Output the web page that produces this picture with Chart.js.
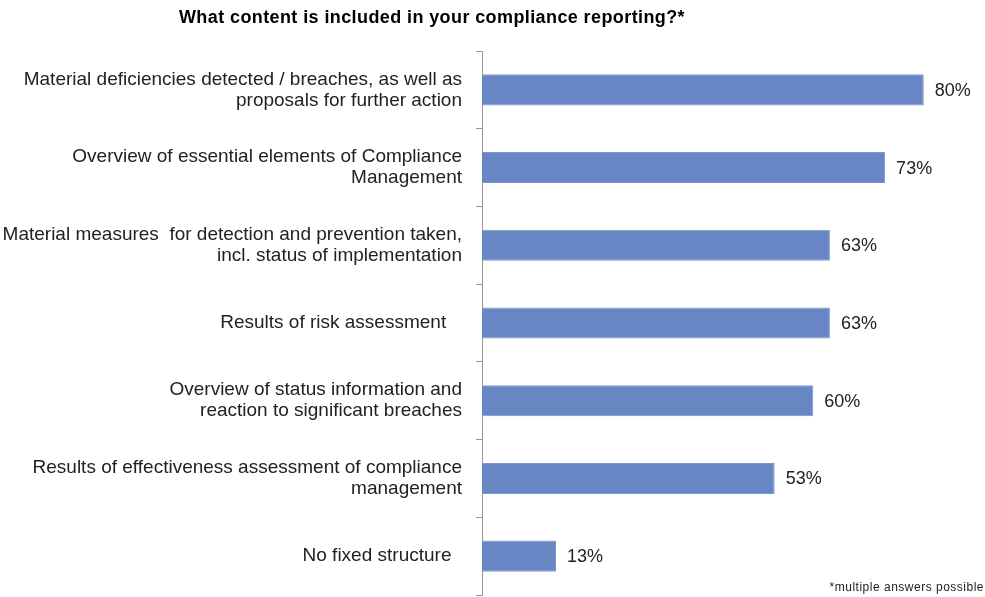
<!DOCTYPE html>
<html lang="en">
<head>
  <meta charset="UTF-8" />
  <title>Compliance reporting content</title>
  <script src="https://cdn.jsdelivr.net/npm/chart.js"></script>
  <style>
    html, body { margin: 0; padding: 0; background: #fff; }
    #wrap { width: 985px; height: 597px; position: relative; }
  </style>
</head>
<body>
  <div id="wrap">
    <canvas id="myChart" width="985" height="597"></canvas>
  </div>

  <script>
    // chart data
    const categories = [
      ['Material deficiencies detected / breaches, as well as', 'proposals for further action'],
      ['Overview of essential elements of Compliance', 'Management'],
      ['Material measures  for detection and prevention taken,', 'incl. status of implementation'],
      'Results of risk assessment   ',
      ['Overview of status information and', 'reaction to significant breaches'],
      ['Results of effectiveness assessment of compliance', 'management'],
      'No fixed structure  '
    ];
    const shares = [80, 73, 63, 63, 60, 53, 13.4];
    const shareLabels = ['80%', '73%', '63%', '63%', '60%', '53%', '13%'];

    const titleText = 'What content is included in your compliance reporting?*';
    const noteText = '*multiple answers possible';
    const fontFamily = "Arial, 'Liberation Sans', sans-serif";

    // value labels to the right of the bars
    const valueLabels = {
      id: 'valueLabels',
      afterDatasetsDraw(chart) {
        const ctx = chart.ctx;
        const meta = chart.getDatasetMeta(0);
        ctx.save();
        ctx.font = '18px ' + fontFamily;
        ctx.fillStyle = '#222';
        ctx.textAlign = 'left';
        ctx.textBaseline = 'middle';
        meta.data.forEach((bar, i) => {
          ctx.fillText(shareLabels[i], bar.x + 11, bar.y + 1);
        });
        ctx.restore();
      }
    };

    // title and footnote
    const extraText = {
      id: 'extraText',
      afterDraw(chart) {
        const ctx = chart.ctx;
        ctx.save();
        ctx.fillStyle = '#000';
        ctx.font = 'bold 18px ' + fontFamily;
        ctx.letterSpacing = '0.4px';
        ctx.textAlign = 'center';
        ctx.textBaseline = 'middle';
        ctx.fillText(titleText, 432, 18);
        ctx.font = '12px ' + fontFamily;
        ctx.letterSpacing = '0.5px';
        ctx.fillStyle = '#222';
        ctx.textAlign = 'right';
        ctx.fillText(noteText, 984, 588);
        ctx.restore();
      }
    };

    const ctx = document.getElementById('myChart').getContext('2d');

    new Chart(ctx, {
      type: 'bar',
      data: {
        labels: categories,
        datasets: [{
          data: shares,
          backgroundColor: '#6886C3',
          borderColor: '#7D97CC',
          borderWidth: 1,
          barPercentage: 0.4,
          categoryPercentage: 1
        }]
      },
      options: {
        indexAxis: 'y',
        responsive: false,
        animation: false,
        layout: { padding: { top: 51, bottom: 2, left: 0, right: 6 } },
        plugins: {
          legend: { display: false },
          tooltip: { enabled: false }
        },
        scales: {
          x: {
            display: false,
            min: 0,
            max: 90
          },
          y: {
            afterFit(scale) {
              scale.width = 482;
              scale.paddingTop = 0;
              scale.paddingBottom = 0;
            },
            border: { color: '#999', width: 1 },
            grid: {
              drawOnChartArea: false,
              offset: true,
              tickLength: 6,
              color: '#999'
            },
            ticks: {
              padding: 14,
              color: '#222',
              font: { family: fontFamily, size: 19, lineHeight: 1.1 }
            }
          }
        }
      },
      plugins: [valueLabels, extraText]
    });
  </script>
</body>
</html>
